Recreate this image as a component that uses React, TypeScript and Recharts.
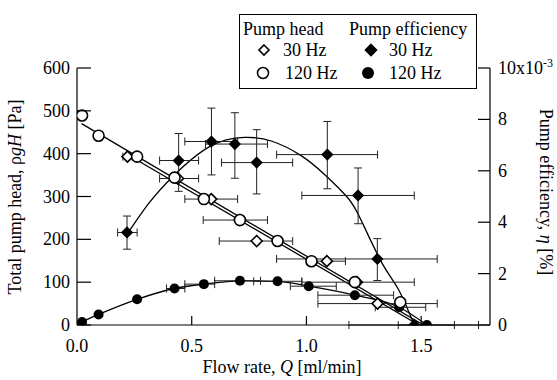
import { ComposedChart, Line, Scatter, XAxis, YAxis, ErrorBar } from 'recharts'

// flow rate Q [ml/min] and readings, taken off the figure

// pump head, 30 Hz (open diamonds)
const head30Q = [0.22, 0.44, 0.585, 0.71, 0.783, 1.089, 1.22, 1.31]
const head30H = [393, 342, 294, 245, 196, 149, 100, 50]
const head30QLo = [0.2, 0.36, 0.47, 0.55, 0.62, 1.0, 0.98, 1.05]
const head30QHi = [0.24, 0.53, 0.7, 0.83, 0.94, 1.17, 1.47, 1.57]

// pump head, 120 Hz (open circles)
const head120Q = [0.022, 0.094, 0.262, 0.425, 0.553, 0.71, 0.874, 1.022, 1.211, 1.409]
const head120H = [489, 442, 393, 344, 294, 245, 196, 149, 100, 53]

// straight fits of the head
const fit30Q = [0.22, 1.49]
const fit30H = [398, 0]
const fit120Q = [0.02, 1.51]
const fit120H = [470, 0]

// pump efficiency, 30 Hz (filled diamonds), x10^-3
const eff30Q = [0.218, 0.443, 0.586, 0.688, 0.783, 1.091, 1.225, 1.309, 1.47]
const eff30E = [3.6, 6.4, 7.14, 7.04, 6.32, 6.63, 5.04, 2.57, 0]
const eff30ELo = [2.95, 5.2, 5.84, 5.71, 5.1, 5.3, 3.94, 1.73, 0]
const eff30EHi = [4.24, 7.45, 8.44, 8.26, 7.6, 7.92, 6.11, 3.36, 0]
const eff30QLo = [0.177, 0.36, 0.47, 0.56, 0.63, 0.87, 0.98, 0.87, 1.185]
const eff30QHi = [0.262, 0.53, 0.7, 0.83, 0.94, 1.31, 1.47, 1.57, 1.75]

// fitted curve through the 30 Hz efficiency
const eff30FitQ = [0.22, 0.31, 0.42, 0.58, 0.73, 0.85, 0.975, 1.08, 1.18, 1.24, 1.33, 1.4, 1.47]
const eff30FitE = [3.55, 4.7, 5.8, 6.95, 7.3, 7.15, 6.6, 5.85, 4.95, 4.05, 2.4, 1.4, 0]

// pump efficiency, 120 Hz (filled circles)
const eff120Q = [0.022, 0.094, 0.262, 0.425, 0.553, 0.71, 0.874, 1.01, 1.211, 1.404, 1.525]
const eff120E = [0.12, 0.41, 1.0, 1.42, 1.59, 1.72, 1.7, 1.51, 1.16, 0.69, 0]
const eff120QLo = [0.022, 0.094, 0.262, 0.39, 0.47, 0.6, 0.77, 0.93, 1.05, 1.3, 1.4]
const eff120QHi = [0.022, 0.094, 0.262, 0.47, 0.6, 0.8, 0.98, 1.13, 1.38, 1.52, 1.645]

const xTicks = [0, 0.5, 1, 1.5]
const headTicks = [0, 100, 200, 300, 400, 500, 600]
const effTicks = [0, 2, 4, 6, 8, 10]

const FONT = '"Liberation Serif", "Times New Roman", serif'

const head30 = head30Q.map((q, i) => ({
  q,
  v: head30H[i],
  ex: [q - head30QLo[i], head30QHi[i] - q],
}))
const head120 = head120Q.map((q, i) => ({ q, v: head120H[i] }))
const fit30 = fit30Q.map((q, i) => ({ q, v: fit30H[i] }))
const fit120 = fit120Q.map((q, i) => ({ q, v: fit120H[i] }))
const eff30 = eff30Q.map((q, i) => ({
  q,
  v: eff30E[i],
  ex: [q - eff30QLo[i], eff30QHi[i] - q],
  ey: [eff30E[i] - eff30ELo[i], eff30EHi[i] - eff30E[i]],
}))
const eff30Fit = eff30FitQ.map((q, i) => ({ q, v: eff30FitE[i] }))
const eff120 = eff120Q.map((q, i) => ({
  q,
  v: eff120E[i],
  ex: [q - eff120QLo[i], eff120QHi[i] - q],
}))

const diamond = (cx: number, cy: number, r: number, filled: boolean) => (
  <polygon
    points={`${cx},${cy - r} ${cx + r},${cy} ${cx},${cy + r} ${cx - r},${cy}`}
    fill={filled ? '#000' : '#fff'}
    stroke="#000"
    strokeWidth={1.6}
  />
)

const OpenDiamond = (p: any) => diamond(p.cx, p.cy, 5.5, false)
const FilledDiamond = (p: any) => diamond(p.cx, p.cy, 5, true)
const OpenCircle = (p: any) => (
  <circle cx={p.cx} cy={p.cy} r={5.5} fill="#fff" stroke="#000" strokeWidth={1.6} />
)
const FilledCircle = (p: any) => <circle cx={p.cx} cy={p.cy} r={5} fill="#000" />

const LeftTick = (p: any) => (
  <g>
    <line x1={p.x + 7} x2={p.x + 21} y1={p.y} y2={p.y} stroke="#000" strokeWidth={1.2} />
    <text x={p.x} y={p.y + 6} textAnchor="end" fontSize={18} fontFamily={FONT} fill="#000">
      {p.payload.value}
    </text>
  </g>
)

const RightTick = (p: any) => (
  <g>
    <line x1={p.x - 8} x2={p.x - 20} y1={p.y} y2={p.y} stroke="#000" strokeWidth={1.2} />
    <text x={p.x} y={p.y + 6} textAnchor="start" fontSize={18} fontFamily={FONT} fill="#000">
      {p.payload.value === 10 ? (
        <>
          <tspan>10x10</tspan>
          <tspan dy={-7} fontSize={12}>-3</tspan>
        </>
      ) : (
        p.payload.value
      )}
    </text>
  </g>
)

const BottomTick = (p: any) => (
  <g>
    {p.payload.value > 0 && (
      <line x1={p.x} x2={p.x} y1={p.y} y2={p.y - 9} stroke="#000" strokeWidth={1.2} />
    )}
    <text x={p.x} y={p.y + 27} textAnchor="middle" fontSize={18} fontFamily={FONT} fill="#000">
      {p.payload.value.toFixed(1)}
    </text>
  </g>
)

const TopTick = (p: any) => (
  <line x1={p.x} x2={p.x} y1={p.y} y2={p.y + 9} stroke="#000" strokeWidth={1.2} />
)

const txt: React.CSSProperties = {
  position: 'absolute',
  fontFamily: FONT,
  fontSize: 18,
  lineHeight: '22px',
  whiteSpace: 'nowrap',
  color: '#000',
}

const sym = (kind: string) => (
  <svg width={14} height={14} style={{ display: 'block' }}>
    {kind === 'od' && diamond(7, 7, 5, false)}
    {kind === 'fd' && diamond(7, 7, 5.5, true)}
    {kind === 'oc' && <circle cx={7} cy={7} r={5.5} fill="#fff" stroke="#000" strokeWidth={1.5} />}
    {kind === 'fc' && <circle cx={7} cy={7} r={6} fill="#000" />}
  </svg>
)

export default function App() {
  return (
    <div style={{ position: 'absolute', left: 0, top: 0, width: 557, height: 380, background: '#fff' }}>
      <ComposedChart width={557} height={380} margin={{ top: 68, right: 7, bottom: 25, left: 0 }}>
        <XAxis
          xAxisId="b"
          dataKey="q"
          type="number"
          domain={[0, 1.8]}
          ticks={xTicks}
          tickSize={0}
          tickMargin={0}
          tick={BottomTick}
          height={30}
          stroke="#000"
          strokeWidth={1.2}
          allowDataOverflow
        />
        <XAxis
          xAxisId="top"
          orientation="top"
          dataKey="q"
          type="number"
          domain={[0, 1.8]}
          ticks={[0.5, 1, 1.5]}
          tickSize={0}
          tickMargin={0}
          tick={TopTick}
          height={0}
          stroke="#000"
          strokeWidth={1.2}
          allowDataOverflow
        />
        <YAxis
          yAxisId="h"
          type="number"
          domain={[0, 600]}
          ticks={headTicks}
          tickSize={0}
          tickMargin={7}
          tick={LeftTick}
          width={77}
          stroke="#000"
          strokeWidth={1.2}
          allowDataOverflow
        />
        <YAxis
          yAxisId="e"
          orientation="right"
          type="number"
          domain={[0, 10]}
          ticks={effTicks}
          tickSize={0}
          tickMargin={8}
          tick={RightTick}
          width={60}
          stroke="#000"
          strokeWidth={1.2}
          allowDataOverflow
        />

        <Line xAxisId="b" yAxisId="h" data={fit120} dataKey="v" type="linear" stroke="#000" strokeWidth={1.3} dot={false} isAnimationActive={false} />
        <Line xAxisId="b" yAxisId="h" data={fit30} dataKey="v" type="linear" stroke="#000" strokeWidth={1.3} dot={false} isAnimationActive={false} />
        <Line xAxisId="b" yAxisId="e" data={eff30Fit} dataKey="v" type="natural" stroke="#000" strokeWidth={1.3} dot={false} isAnimationActive={false} />
        <Line xAxisId="b" yAxisId="e" data={eff120} dataKey="v" type="monotone" stroke="#000" strokeWidth={1.3} dot={false} isAnimationActive={false} />

        <Scatter xAxisId="b" yAxisId="e" data={eff120} dataKey="v" shape={FilledCircle} isAnimationActive={false}>
          <ErrorBar dataKey="ex" direction="x" width={4} stroke="#222" strokeWidth={1} />
        </Scatter>
        <Scatter xAxisId="b" yAxisId="h" data={head30} dataKey="v" shape={OpenDiamond} isAnimationActive={false}>
          <ErrorBar dataKey="ex" direction="x" width={4} stroke="#222" strokeWidth={1} />
        </Scatter>
        <Scatter xAxisId="b" yAxisId="h" data={head120} dataKey="v" shape={OpenCircle} isAnimationActive={false} />
        <Scatter xAxisId="b" yAxisId="e" data={eff30} dataKey="v" shape={FilledDiamond} isAnimationActive={false}>
          <ErrorBar dataKey="ex" direction="x" width={4} stroke="#222" strokeWidth={1} />
          <ErrorBar dataKey="ey" direction="y" width={4} stroke="#222" strokeWidth={1} />
        </Scatter>
      </ComposedChart>

      <div style={{ ...txt, left: 15, top: 197, transform: 'translate(-50%, -50%) rotate(-90deg)' }}>
        Total pump head, ρ<i>gH</i> [Pa]
      </div>
      <div style={{ ...txt, left: 546, top: 192, transform: 'translate(-50%, -50%) rotate(90deg)' }}>
        Pump efficiency, <i>η</i> [%]
      </div>
      <div style={{ ...txt, left: 282, top: 367, transform: 'translate(-50%, -50%)' }}>
        Flow rate, <i>Q</i> [ml/min]
      </div>

      <div
        style={{
          position: 'absolute',
          left: 239,
          top: 14,
          width: 238,
          height: 75,
          boxSizing: 'border-box',
          border: '1.5px solid #000',
          background: '#fff',
        }}
      >
        <span style={{ ...txt, left: 3, top: 3 }}>Pump head</span>
        <span style={{ ...txt, left: 109, top: 3 }}>Pump efficiency</span>
        <div style={{ position: 'absolute', left: 17, top: 28 }}>{sym('od')}</div>
        <span style={{ ...txt, left: 43, top: 24 }}>30 Hz</span>
        <div style={{ position: 'absolute', left: 124, top: 28 }}>{sym('fd')}</div>
        <span style={{ ...txt, left: 149, top: 24 }}>30 Hz</span>
        <div style={{ position: 'absolute', left: 16, top: 51 }}>{sym('oc')}</div>
        <span style={{ ...txt, left: 45, top: 47 }}>120 Hz</span>
        <div style={{ position: 'absolute', left: 121, top: 51 }}>{sym('fc')}</div>
        <span style={{ ...txt, left: 149, top: 47 }}>120 Hz</span>
      </div>
    </div>
  )
}
